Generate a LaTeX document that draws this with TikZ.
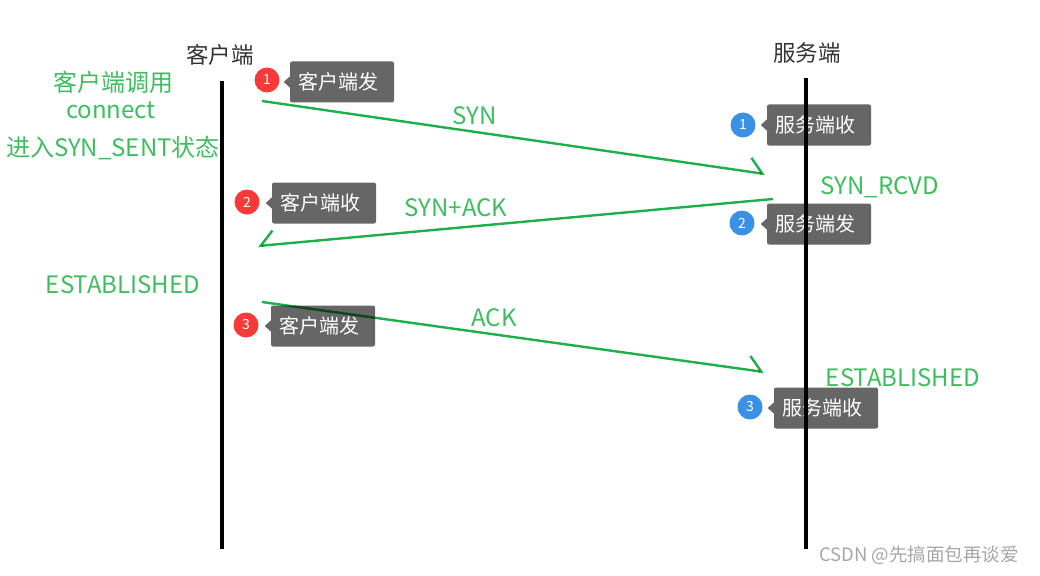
\documentclass[tikz,border=0pt]{standalone}
\usepackage{fontspec}
\setmainfont{Noto Sans CJK SC}
\usetikzlibrary{arrows.meta}
\definecolor{grn}{HTML}{3DBE5E}
\definecolor{arrc}{HTML}{1DB04A}
\definecolor{boxg}{HTML}{666666}
\definecolor{redc}{HTML}{F63A3A}
\definecolor{bluec}{HTML}{3A91E3}
\definecolor{hdr}{HTML}{333333}
\tikzset{
  lifeline/.style={line width=4.5pt},
  header/.style={text=hdr, font=\fontsize{22.5}{24}\selectfont},
  tag/.style={fill=boxg, text=white, rounded corners=2pt, minimum width=104pt, minimum height=41pt, inner sep=0pt, text width=88pt, align=left, font=\fontsize{20}{22}\selectfont},
  badge/.style={circle, minimum size=25pt, inner sep=0pt, text=white, font=\fontsize{14}{15}\selectfont},
  rb/.style={badge, fill=redc},
  bb/.style={badge, fill=bluec},
  gtext/.style={text=grn, font=\fontsize{24}{26}\selectfont},
  msg/.style={draw=arrc, line width=2.4pt, blend mode=multiply},
  barb/.style={-{Straight Barb[harpoon, length=13pt, width=28pt, line width=2.4pt]}},
  barbsw/.style={-{Straight Barb[harpoon, swap, length=13pt, width=28pt, line width=2.4pt]}},
}
\newcommand{\tagptr}[1]{\fill[boxg] (#1.west) +(0.5,-6) -- +(-6,0) -- +(0.5,6) -- cycle;}
\begin{document}
\begin{tikzpicture}[x=1pt,y=-1pt]
\useasboundingbox (0,0) rectangle (1040,575);

% headers
\node[header] (hc) at (220,55) {客户端};
\node[header] (hs) at (807,53) {服务端};

% tags with pointers
\node[tag] (c1) at (342,82) {客户端发}; \tagptr{c1}
\node[rb] (rc1) at (267,80) {1};
\node[tag] (s1) at (819,125) {服务端收}; \tagptr{s1}
\node[bb] (bs1) at (743,125) {1};
\node[tag] (c2) at (324,203) {客户端收}; \tagptr{c2}
\node[rb] (rc2) at (247,202) {2};
\node[tag] (s2) at (819,224) {服务端发}; \tagptr{s2}
\node[bb] (bs2) at (742,223) {2};
\node[tag] (c3) at (323,326) {客户端发}; \tagptr{c3}
\node[rb] (rc3) at (246,325) {3};
\node[tag] (s3) at (826,408) {服务端收}; \tagptr{s3}
\node[bb] (bs3) at (750,407) {3};

% lifelines
\coordinate (ct) at (222,81);
\coordinate (cb) at (222,549);
\coordinate (st) at (806,78);
\coordinate (sb) at (806,549);
\draw[lifeline] (ct) -- (cb);
\draw[lifeline] (st) -- (sb);

% messages
\coordinate (m1a) at (262,101);
\coordinate (m1b) at (765,174);
\coordinate (m2a) at (773,199);
\coordinate (m2b) at (258,246);
\coordinate (m3a) at (262,302);
\coordinate (m3b) at (764,372);
\draw[msg, barb] (m1a) -- (m1b);
\draw[msg, barbsw] (m2a) -- (m2b);
\draw[msg, barb] (m3a) -- (m3b);

% green labels
\node[gtext] (l1) at (113,82) {客户端调用};
\node[gtext] (l2) at (111,110) {connect};
\node[gtext] (l3) at (113,148) {进入SYN\_SENT状态};
\node[gtext] (syn) at (475,116) {SYN};
\node[gtext] (rcvd) at (880,187) {SYN\_RCVD};
\node[gtext] (synack) at (456,208) {SYN+ACK};
\node[gtext] (est1) at (123,285) {ESTABLISHED};
\node[gtext] (ack) at (494,318) {ACK};
\node[gtext] (est2) at (903,378) {ESTABLISHED};

% watermark
\node[text=gray!70, font=\fontsize{18.5}{20}\selectfont] (wm) at (919,555) {CSDN @先搞面包再谈爱};
\end{tikzpicture}
\end{document}
